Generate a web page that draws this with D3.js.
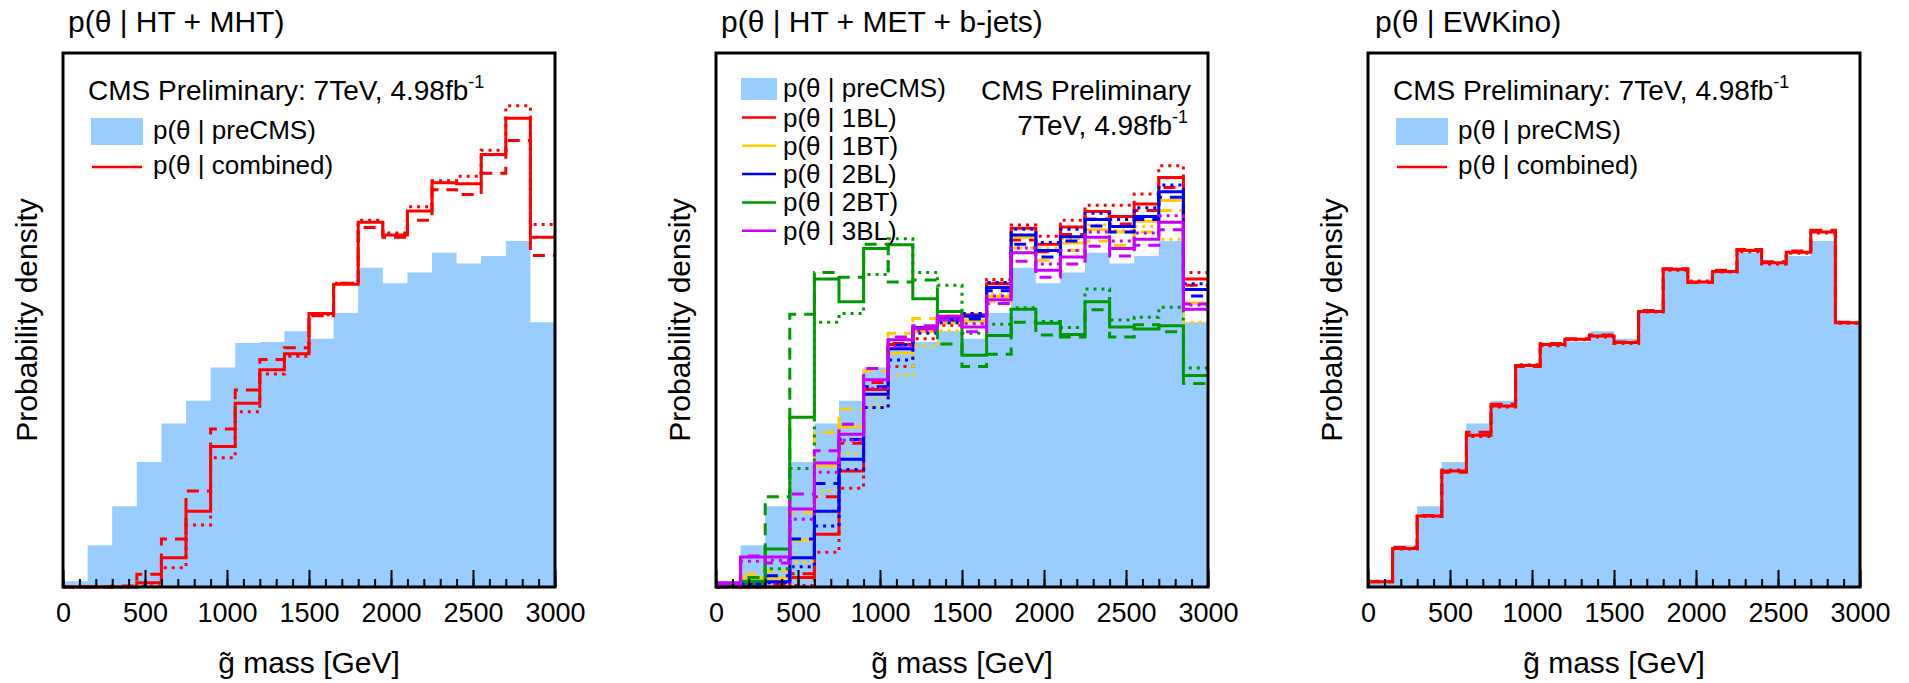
<!DOCTYPE html>
<html>
<head>
<meta charset="utf-8">
<script src="https://cdn.jsdelivr.net/npm/d3@7"></script>
<style>
body { margin: 0; background: #fff; }
text { font-family: "Liberation Sans", Arial, Helvetica, sans-serif; fill: #000; }
</style>
</head>
<body>
<svg id="chart" width="1909" height="683"></svg>
<script>
// gluino mass bins (low edge, GeV), 150 GeV wide
var binLow = [0, 150, 300, 450, 600, 750, 900, 1050, 1200, 1350, 1500, 1650, 1800, 1950, 2100, 2250, 2400, 2550, 2700, 2850];
var binWidth = 150;
var xTicks = [0, 500, 1000, 1500, 2000, 2500, 3000];

// probability density, arbitrary units (% of frame height)
var preCMS = [1.1, 7.8, 15.1, 23.4, 30.6, 34.9, 41.1, 45.7, 45.9, 47.9, 46.5, 51.3, 59.8, 56.9, 58.9, 62.6, 60.6, 62.0, 64.8, 49.6];

// HT + MHT
var mhtComb    = [0, 0, 0, 0.8, 5.5, 14.2, 26.3, 34.4, 40.7, 43.7, 51.2, 56.7, 68.3, 65.9, 70.4, 75.7, 75.5, 81.0, 87.8, 65.5];
var mhtCombDn  = [0, 0, 0.2, 2.4, 9.0, 18.0, 29.6, 36.9, 42.6, 44.8, 50.8, 56.9, 67.3, 65.5, 68.7, 74.4, 73.5, 77.5, 83.6, 62.1];
var mhtCombUp  = [0, 0, 0, 0.2, 3.6, 11.6, 24.2, 32.8, 39.9, 43.2, 51.0, 56.9, 68.7, 66.3, 71.2, 76.1, 76.9, 81.8, 90.1, 67.9];

// HT + MET + b-jets
var b1BL    = [0, 0, 0, 1.8, 9.9, 21.7, 37.0, 45.4, 48.0, 50.0, 51.0, 56.8, 67.2, 64.2, 67.4, 70.3, 69.4, 71.7, 76.7, 57.7];
var b1BLDn  = [0, 0, 0.5, 2.5, 16.9, 26.9, 38.3, 45.6, 48.0, 49.7, 50.2, 56.9, 65.0, 62.8, 66.0, 68.9, 68.0, 70.5, 74.8, 56.5];
var b1BLUp  = [0, 0, 0, 0.3, 6.5, 18.5, 33.6, 41.3, 46.5, 49.0, 51.2, 57.6, 67.8, 65.7, 68.7, 71.5, 71.5, 73.6, 78.9, 58.9];
var b1BT    = [0.3, 1.7, 1.7, 8.8, 22.7, 30.0, 35.9, 43.8, 47.8, 49.5, 49.8, 54.4, 65.5, 63.0, 64.4, 66.9, 66.5, 68.5, 72.4, 53.2];
var b1BTDn  = [0.3, 2.4, 3.0, 14.0, 29.0, 33.3, 40.5, 47.5, 50.3, 50.8, 50.0, 53.5, 63.5, 61.2, 63.0, 64.8, 64.0, 66.5, 70.5, 52.0];
var b1BTUp  = [0, 0.8, 1.0, 4.7, 18.0, 25.0, 34.0, 39.7, 45.1, 48.0, 49.5, 54.8, 66.0, 63.5, 65.2, 67.8, 66.8, 67.5, 65.1, 49.6];
var b2BL    = [0.3, 0.5, 1.0, 5.5, 14.2, 23.9, 36.1, 44.6, 48.6, 50.4, 50.7, 56.1, 65.9, 63.0, 65.6, 68.8, 67.5, 69.4, 74.0, 55.7];
var b2BLDn  = [0.2, 0.8, 2.1, 9.0, 19.4, 27.6, 37.5, 45.3, 48.5, 50.0, 50.2, 55.5, 64.2, 61.8, 64.8, 67.6, 66.5, 68.8, 73.0, 54.5];
var b2BLUp  = [0, 0.3, 0.8, 3.8, 11.4, 22.0, 33.6, 42.5, 47.5, 49.5, 51.2, 57.0, 67.0, 64.5, 67.0, 70.0, 68.8, 71.0, 75.3, 56.8];
var b2BT    = [0.3, 1.1, 7.1, 31.8, 57.7, 53.4, 63.4, 64.1, 54.0, 51.6, 43.4, 47.1, 52.0, 49.4, 47.3, 53.4, 48.7, 48.3, 48.9, 39.6];
var b2BTDn  = [0.2, 1.8, 16.9, 51.1, 58.9, 58.0, 64.2, 57.1, 57.5, 45.5, 41.3, 43.6, 49.6, 47.2, 46.8, 51.9, 46.8, 49.1, 47.8, 38.1];
var b2BTUp  = [0, 0.6, 3.4, 22.2, 49.6, 51.2, 58.5, 65.2, 58.9, 56.5, 47.5, 49.2, 52.3, 49.7, 48.6, 55.8, 50.0, 50.5, 52.4, 41.0];
var b3BL    = [0.8, 5.6, 5.6, 14.6, 23.2, 28.6, 38.8, 46.3, 48.5, 50.7, 48.7, 53.8, 62.6, 59.3, 61.8, 65.5, 63.4, 65.1, 68.3, 52.0];
var b3BLDn  = [0.5, 5.8, 4.5, 17.4, 25.5, 30.5, 40.9, 46.8, 48.9, 50.0, 47.8, 53.1, 61.0, 58.0, 60.5, 63.8, 62.0, 64.0, 66.9, 53.0];
var b3BLUp  = [0.3, 4.8, 5.0, 12.7, 21.5, 27.5, 37.2, 45.0, 48.0, 50.2, 49.3, 54.5, 63.5, 60.5, 63.0, 66.5, 64.8, 66.3, 69.5, 52.8];

// EWKino
var ewkComb   = [1.0, 7.2, 13.3, 21.7, 28.4, 33.9, 41.5, 45.4, 46.4, 47.0, 45.8, 51.6, 59.5, 57.1, 59.1, 63.0, 60.7, 62.7, 66.5, 49.5];
var ewkCombDn = [1.0, 7.4, 13.4, 21.5, 29.0, 34.2, 41.3, 45.6, 46.5, 47.2, 45.9, 51.8, 59.6, 57.0, 59.3, 63.2, 60.9, 62.9, 66.8, 49.6];
var ewkCombUp = [1.1, 7.1, 13.2, 21.9, 28.2, 33.7, 41.6, 45.2, 46.3, 46.8, 45.6, 51.5, 59.3, 57.3, 59.0, 62.8, 60.5, 62.5, 66.3, 49.4];

var RED = "#ff0000", YEL = "#ffcc00", BLU = "#0000ff", GRN = "#009900", PUR = "#cc00ff", FILL = "#99ccff";
var DASH = "12,8", DOT = "3,5";

var svg = d3.select("#chart");
var plotW = 492, plotTop = 53, plotBottom = 587;
var y = d3.scaleLinear().domain([0, 100]).range([plotBottom, plotTop]);

function stepPoints(vals) {
    var pts = vals.map(function(v, i) { return [binLow[i], v]; });
    pts.push([binLow[binLow.length - 1] + binWidth, vals[vals.length - 1]]);
    return pts;
}

function addSup(sel, main, sup) {
    sel.append("tspan").text(main);
    sel.append("tspan").text(sup).attr("font-size", 18).attr("dy", -12);
}

function drawPanel(p) {
    var x = d3.scaleLinear().domain([0, 3000]).range([p.left, p.left + plotW]);
    var g = svg.append("g");

    var area = d3.area()
        .x(function(d) { return x(d[0]); })
        .y0(plotBottom)
        .y1(function(d) { return y(d[1]); })
        .curve(d3.curveStepAfter);
    g.append("path").attr("d", area(stepPoints(preCMS))).attr("fill", FILL);

    var line = d3.line()
        .x(function(d) { return x(d[0]); })
        .y(function(d) { return y(d[1]); })
        .curve(d3.curveStepAfter);

    p.lines.forEach(function(l) {
        g.append("path")
            .attr("d", line(stepPoints(l.values)))
            .attr("fill", "none")
            .attr("stroke", l.color)
            .attr("stroke-width", 3)
            .attr("stroke-dasharray", l.dash || null);
    });

    // ticks inside the frame
    var minor = g.append("g").attr("transform", "translate(0," + plotBottom + ")")
        .call(d3.axisBottom(x).ticks(30).tickSize(-8).tickFormat(""));
    minor.select(".domain").remove();
    minor.selectAll("line").attr("stroke-width", 2);

    var major = g.append("g").attr("transform", "translate(0," + plotBottom + ")")
        .call(d3.axisBottom(x).tickValues(xTicks).tickSize(-17).tickPadding(16).tickFormat(d3.format("d")));
    major.select(".domain").remove();
    major.attr("font-size", 27).attr("font-family", "Liberation Sans, Arial, sans-serif");
    major.selectAll("line").attr("stroke-width", 2);

    g.append("rect")
        .attr("x", p.left).attr("y", plotTop)
        .attr("width", plotW).attr("height", plotBottom - plotTop)
        .attr("fill", "none").attr("stroke", "#000").attr("stroke-width", 3);

    g.append("text").attr("x", p.left + p.titleDx).attr("y", 32)
        .attr("font-size", 30).text(p.title);

    g.append("text").attr("x", p.left + plotW / 2).attr("y", 673)
        .attr("text-anchor", "middle").attr("font-size", 30).text("g\u0303 mass [GeV]");

    g.append("text")
        .attr("transform", "translate(" + (p.left - 26) + "," + ((plotTop + plotBottom) / 2) + ") rotate(-90)")
        .attr("text-anchor", "middle").attr("font-size", 30).text("Probability density");

    p.legend(g, p.left);
}

function legendCombined(g, L) {
    addSup(g.append("text").attr("x", L + 25).attr("y", 100).attr("font-size", 28),
        "CMS Preliminary: 7TeV, 4.98fb", "-1");
    g.append("rect").attr("x", L + 28).attr("y", 118).attr("width", 52).attr("height", 27).attr("fill", FILL);
    g.append("text").attr("x", L + 90).attr("y", 139).attr("font-size", 26).text("p(\u03b8 | preCMS)");
    g.append("line").attr("x1", L + 29).attr("x2", L + 79).attr("y1", 167).attr("y2", 167)
        .attr("stroke", RED).attr("stroke-width", 2.5);
    g.append("text").attr("x", L + 90).attr("y", 174).attr("font-size", 26).text("p(\u03b8 | combined)");
}

var bNames = ["1BL", "1BT", "2BL", "2BT", "3BL"];
var bColors = [RED, YEL, BLU, GRN, PUR];

function legendBjets(g, L) {
    g.append("text").attr("x", L + 475).attr("y", 100).attr("text-anchor", "end")
        .attr("font-size", 28).text("CMS Preliminary");
    addSup(g.append("text").attr("x", L + 472).attr("y", 135).attr("text-anchor", "end").attr("font-size", 28),
        "7TeV, 4.98fb", "-1");
    g.append("rect").attr("x", L + 25).attr("y", 78).attr("width", 36).attr("height", 22).attr("fill", FILL);
    g.append("text").attr("x", L + 67).attr("y", 97).attr("font-size", 26).text("p(\u03b8 | preCMS)");
    bNames.forEach(function(n, i) {
        var yy = 117.5 + i * 28.3;
        g.append("line").attr("x1", L + 26).attr("x2", L + 60).attr("y1", yy).attr("y2", yy)
            .attr("stroke", bColors[i]).attr("stroke-width", 2.5);
        g.append("text").attr("x", L + 67).attr("y", yy + 9).attr("font-size", 26).text("p(\u03b8 | " + n + ")");
    });
}

var panels = [
    { left: 63, titleDx: 5, title: "p(\u03b8 | HT + MHT)", legend: legendCombined,
      lines: [
        { values: mhtCombDn, color: RED, dash: DASH },
        { values: mhtCombUp, color: RED, dash: DOT },
        { values: mhtComb, color: RED }
      ] },
    { left: 716, titleDx: 5, title: "p(\u03b8 | HT + MET + b-jets)", legend: legendBjets,
      lines: [
        { values: b1BLDn, color: RED, dash: DASH }, { values: b1BLUp, color: RED, dash: DOT }, { values: b1BL, color: RED },
        { values: b1BTDn, color: YEL, dash: DASH }, { values: b1BTUp, color: YEL, dash: DOT }, { values: b1BT, color: YEL },
        { values: b2BLDn, color: BLU, dash: DASH }, { values: b2BLUp, color: BLU, dash: DOT }, { values: b2BL, color: BLU },
        { values: b2BTDn, color: GRN, dash: DASH }, { values: b2BTUp, color: GRN, dash: DOT }, { values: b2BT, color: GRN },
        { values: b3BLDn, color: PUR, dash: DASH }, { values: b3BLUp, color: PUR, dash: DOT }, { values: b3BL, color: PUR }
      ] },
    { left: 1368, titleDx: 7, title: "p(\u03b8 | EWKino)", legend: legendCombined,
      lines: [
        { values: ewkCombDn, color: RED, dash: DASH },
        { values: ewkCombUp, color: RED, dash: DOT },
        { values: ewkComb, color: RED }
      ] }
];

panels.forEach(drawPanel);
</script>
</body>
</html>
